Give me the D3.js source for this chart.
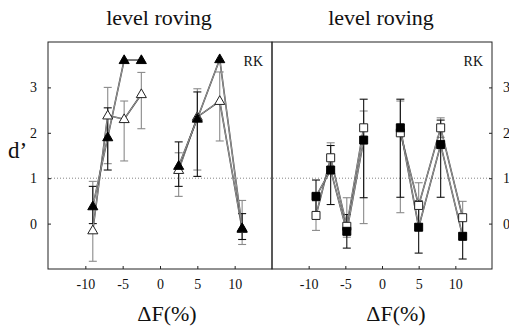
<!DOCTYPE html>
<html>
<head>
<meta charset="utf-8">
<script src="https://cdn.jsdelivr.net/npm/d3@7/dist/d3.min.js"></script>
<style>
  html, body { margin: 0; padding: 0; background: #fff; }
  svg, svg text { font-family: "Liberation Serif", "DejaVu Serif", "Times New Roman", serif; }
  svg { display: block; }
</style>
</head>
<body>
<svg id="chart" width="509" height="329"></svg>
<script>
// Frequency shifts (ΔF, %) shared by both panels
const deltaF = [-9, -7, -4.8, -2.5, 2.5, 5, 8, 11];
const xTicks = [-10, -5, 0, 5, 10];
const yTicks = [0, 1, 2, 3];

// Left panel: filled triangles and open triangles (d')
const leftFilled   = [0.38, 1.9, 3.6, 3.6, 1.27, 2.31, 3.62, -0.1];
const leftFilledLo = [0.0, 1.18, null, null, 0.82, 1.04, null, -0.35];
const leftFilledHi = [0.82, 2.55, null, null, 1.8, 2.9, null, 0.22];
const leftOpen     = [-0.15, 2.38, 2.3, 2.85, 1.18, 2.35, 2.7, -0.12];
const leftOpenLo   = [-0.83, 1.32, 1.38, 2.09, 0.6, 1.18, 1.82, -0.46];
const leftOpenHi   = [0.93, 3.0, 2.7, 3.33, 1.56, 2.97, 3.34, 0.51];

// Right panel: filled squares and open squares (d')
const rightFilled   = [0.6, 1.18, -0.17, 1.84, 2.11, -0.08, 1.74, -0.28];
const rightFilledLo = [0.24, 0.42, -0.54, 0.57, 0.58, -0.65, 0.58, -0.78];
const rightFilledHi = [0.96, 1.72, 0.2, 2.74, 2.74, 0.5, 2.28, 0.2];
const rightOpen     = [0.18, 1.45, -0.06, 2.11, 2.0, 0.4, 2.11, 0.13];
const rightOpenLo   = [-0.15, 1.12, -0.3, 0.0, 0.24, 0.0, 1.9, -0.2];
const rightOpenHi   = [0.5, 1.78, 0.57, 2.48, 2.7, 0.9, 2.33, 0.49];

const FONT = "'Liberation Serif', 'DejaVu Serif', serif";
const plainNum = d => String(d);   // keeps an ASCII hyphen for negatives
const svg = d3.select("#chart");
const plotTop = 42, plotBottom = 269;
const y = d3.scaleLinear().domain([-1, 4]).range([plotBottom, plotTop]);

const panels = [
  { x0: 48, x1: 272, side: "left", marker: "triangle",
    filled: leftFilled, fLo: leftFilledLo, fHi: leftFilledHi,
    open: leftOpen, oLo: leftOpenLo, oHi: leftOpenHi },
  { x0: 272, x1: 492, side: "right", marker: "square",
    filled: rightFilled, fLo: rightFilledLo, fHi: rightFilledHi,
    open: rightOpen, oLo: rightOpenLo, oHi: rightOpenHi }
];

// Reference line at d' = 1 across both panels
svg.append("line")
  .attr("x1", 48).attr("x2", 492)
  .attr("y1", y(1)).attr("y2", y(1))
  .attr("stroke", "#777").attr("stroke-width", 0.9)
  .attr("stroke-dasharray", "1,2");

panels.forEach(p => {
  const x = d3.scaleLinear().domain([-15, 15]).range([p.x0, p.x1]);
  const g = svg.append("g");

  // frame
  g.append("rect")
    .attr("x", p.x0).attr("y", plotTop)
    .attr("width", p.x1 - p.x0).attr("height", plotBottom - plotTop)
    .attr("fill", "none").attr("stroke", "#222").attr("stroke-width", 1);

  // x axis (ticks pointing inward)
  const xa = g.append("g").attr("transform", `translate(0,${plotBottom})`)
    .call(d3.axisBottom(x).tickValues(xTicks).tickFormat(plainNum)
      .tickSizeInner(-3).tickSizeOuter(0).tickPadding(10));
  xa.attr("font-family", FONT);
  xa.select(".domain").remove();
  xa.selectAll("text").attr("font-size", 14).attr("fill", "#111");
  xa.selectAll("line").attr("stroke", "#222");

  // y axis on the outer side of each panel
  const yAxis = p.side === "left" ? d3.axisLeft(y) : d3.axisRight(y);
  const ya = g.append("g").attr("transform", `translate(${p.side === "left" ? p.x0 : p.x1},0)`)
    .call(yAxis.tickValues(yTicks).tickFormat(plainNum)
      .tickSizeInner(-3).tickSizeOuter(0).tickPadding(11));
  ya.attr("font-family", FONT);
  ya.select(".domain").remove();
  ya.selectAll("text").attr("font-size", 14).attr("fill", "#111");
  ya.selectAll("line").attr("stroke", "#222");

  const mid = (p.x0 + p.x1) / 2;
  // title
  g.append("text").attr("x", mid - 1).attr("y", 25)
    .attr("text-anchor", "middle").attr("font-size", 22).attr("fill", "#111")
    .text("level roving");
  // x label
  g.append("text").attr("x", mid + (p.side === "left" ? 7 : 14)).attr("y", 321)
    .attr("text-anchor", "middle").attr("font-size", 22).attr("fill", "#111")
    .text("ΔF(%)");
  // subject label
  g.append("text").attr("x", p.x1 - 9).attr("y", 66)
    .attr("text-anchor", "end").attr("font-size", 14).attr("fill", "#111")
    .text("RK");

  // build point records
  const rec = (vals, lo, hi) => deltaF.map((f, i) => ({ f, v: vals[i], lo: lo[i], hi: hi[i] }));
  const filled = rec(p.filled, p.fLo, p.fHi);
  const open = rec(p.open, p.oLo, p.oHi);

  // error bars
  const bars = (data, color) => {
    const eg = g.append("g").attr("stroke", color).attr("stroke-width", 1.1);
    data.filter(d => d.lo != null).forEach(d => {
      const cx = x(d.f);
      eg.append("line").attr("x1", cx).attr("x2", cx).attr("y1", y(d.lo)).attr("y2", y(d.hi));
      [d.lo, d.hi].forEach(v => eg.append("line")
        .attr("x1", cx - 4).attr("x2", cx + 4).attr("y1", y(v)).attr("y2", y(v)));
    });
  };
  bars(open, "#8a8a8a");
  bars(filled, "#111");

  // connecting lines, split at ΔF = 0
  const line = d3.line().x(d => x(d.f)).y(d => y(d.v));
  const drawLines = data => {
    [data.filter(d => d.f < 0), data.filter(d => d.f > 0)].forEach(seg => {
      g.append("path").attr("d", line(seg)).attr("fill", "none")
        .attr("stroke", "#333").attr("stroke-width", 1.6);
      g.append("path").attr("d", line(seg)).attr("fill", "none")
        .attr("stroke", "#fff").attr("stroke-width", 0.5);
    });
  };
  drawLines(open);
  drawLines(filled);

  // markers
  const sym = p.marker === "triangle"
    ? d3.symbol().type(d3.symbolTriangle).size(44)
    : d3.symbol().type(d3.symbolSquare).size(64);
  g.selectAll(".open").data(open).join("path")
    .attr("transform", d => `translate(${x(d.f)},${y(d.v) + (p.marker === "triangle" ? 0.5 : 0)})`)
    .attr("d", sym).attr("fill", "#fff").attr("stroke", "#222").attr("stroke-width", 1);
  g.selectAll(".filled").data(filled).join("path")
    .attr("transform", d => `translate(${x(d.f)},${y(d.v) + (p.marker === "triangle" ? 0.5 : 0)})`)
    .attr("d", sym).attr("fill", "#000").attr("stroke", "#000").attr("stroke-width", 1);
});

// y-axis title
svg.append("text").attr("x", 8).attr("y", 158)
  .attr("font-size", 23).attr("fill", "#111").text("d’");
</script>
</body>
</html>
